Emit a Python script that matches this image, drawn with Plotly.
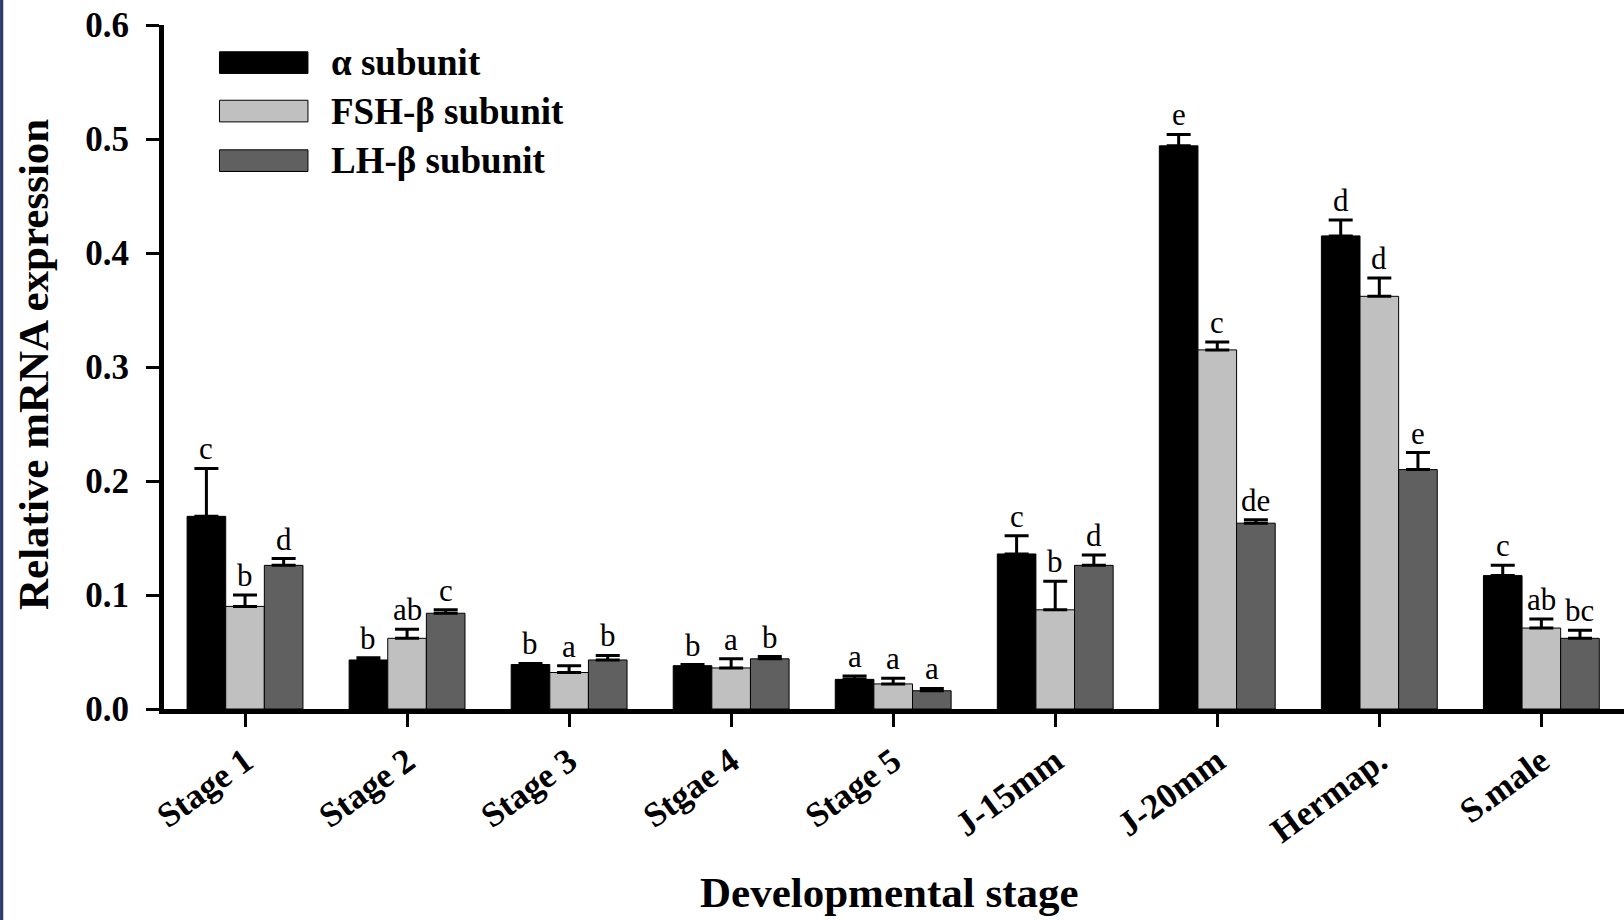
import plotly.graph_objects as go

categories = ["Stage 1", "Stage 2", "Stage 3", "Stgae 4", "Stage 5", "J-15mm", "J-20mm", "Hermap.", "S.male"]
series_names = ["α subunit", "FSH-β subunit", "LH-β subunit"]

alpha_vals = [0.169, 0.043, 0.039, 0.038, 0.026, 0.136, 0.494, 0.415, 0.117]
alpha_err = [0.042, 0.002, 0.001, 0.001, 0.003, 0.016, 0.010, 0.014, 0.009]
alpha_letters = ["c", "b", "b", "b", "a", "c", "e", "d", "c"]

fsh_vals = [0.090, 0.062, 0.032, 0.036, 0.022, 0.087, 0.315, 0.362, 0.071]
fsh_err = [0.010, 0.008, 0.006, 0.008, 0.005, 0.025, 0.007, 0.016, 0.008]
fsh_letters = ["b", "ab", "a", "a", "a", "b", "c", "d", "ab"]

lh_vals = [0.126, 0.084, 0.043, 0.044, 0.016, 0.126, 0.163, 0.210, 0.062]
lh_err = [0.006, 0.003, 0.004, 0.002, 0.002, 0.009, 0.003, 0.015, 0.007]
lh_letters = ["d", "c", "b", "b", "a", "d", "de", "e", "bc"]

y_ticks = [0.0, 0.1, 0.2, 0.3, 0.4, 0.5, 0.6]

colors = ["#000000", "#c0c0c0", "#606060"]
SERIF = "Liberation Serif, Times New Roman, serif"

values = [alpha_vals, fsh_vals, lh_vals]
errors = [alpha_err, fsh_err, lh_err]
letters = [alpha_letters, fsh_letters, lh_letters]

fig = go.Figure()
for k in range(3):
    fig.add_trace(go.Bar(
        x=categories, y=values[k], name=series_names[k],
        marker=dict(color=colors[k], line=dict(color="#000000", width=1)),
        error_y=dict(type="data", symmetric=False, array=errors[k],
                     arrayminus=[0] * len(categories), color="#000000",
                     thickness=3, width=12),
        showlegend=False,
    ))

bargap = 0.285
bw = (1 - bargap) / 3
annotations = []
for k in range(3):
    for i, c in enumerate(categories):
        annotations.append(dict(
            x=i + (k - 1) * bw, y=values[k][i] + errors[k][i],
            xref="x", yref="y", text=letters[k][i], showarrow=False,
            yanchor="bottom", yshift=0,
            font=dict(family=SERIF, size=31, color="#000000"),
        ))

# axis titles
annotations.append(dict(x=0.497, y=-0.269, xref="paper", yref="paper",
                        xanchor="center", yanchor="middle",
                        text="Developmental stage", showarrow=False,
                        font=dict(family=SERIF, size=43, color="#000000", weight="bold")))
annotations.append(dict(x=-0.089, y=0.503, xref="paper", yref="paper", textangle=-90,
                        xanchor="center", yanchor="middle",
                        text="Relative mRNA expression", showarrow=False,
                        font=dict(family=SERIF, size=43, color="#000000", weight="bold")))

# custom legend
shapes = []
legend_y = [0.567, 0.5245, 0.481]
for k in range(3):
    ly = legend_y[k]
    shapes.append(dict(type="rect", xref="paper", yref="y",
                       x0=0.038, x1=0.0986, y0=ly - 0.0095, y1=ly + 0.0095,
                       fillcolor=colors[k], line=dict(color="#000000", width=1)))
    annotations.append(dict(x=0.113, y=ly, xref="paper", yref="y", xanchor="left",
                            yanchor="middle", text=series_names[k],
                            showarrow=False,
                            font=dict(family=SERIF, size=37, color="#000000", weight="bold")))

# left edge stripe
shapes.append(dict(type="rect", xref="paper", yref="paper", x0=-0.1123, x1=-0.1101,
                   y0=-0.5, y1=1.2, fillcolor="#2b3a6b", line=dict(width=0)))

fig.update_layout(
    width=1624, height=920,
    margin=dict(l=164, r=0, t=25, b=211),
    paper_bgcolor="white", plot_bgcolor="white",
    barmode="group", bargap=bargap, bargroupgap=0,
    annotations=annotations, shapes=shapes,
    xaxis=dict(range=[-0.5, 8.51], showline=True, linecolor="#000000", linewidth=5,
               ticks="outside", ticklen=13, tickwidth=3, tickcolor="#000000",
               tickangle=-36, showgrid=False, zeroline=False,
               tickfont=dict(family=SERIF, size=35, color="#000000", weight="bold")),
    yaxis=dict(range=[0, 0.6], tickvals=y_ticks, tickformat=".1f",
               showline=True, linecolor="#000000", linewidth=5,
               ticks="outside", ticklen=13, tickwidth=3, tickcolor="#000000",
               ticklabelstandoff=10,
               showgrid=False, zeroline=False,
               tickfont=dict(family=SERIF, size=35, color="#000000", weight="bold")),
)

fig.write_html("out.html")
